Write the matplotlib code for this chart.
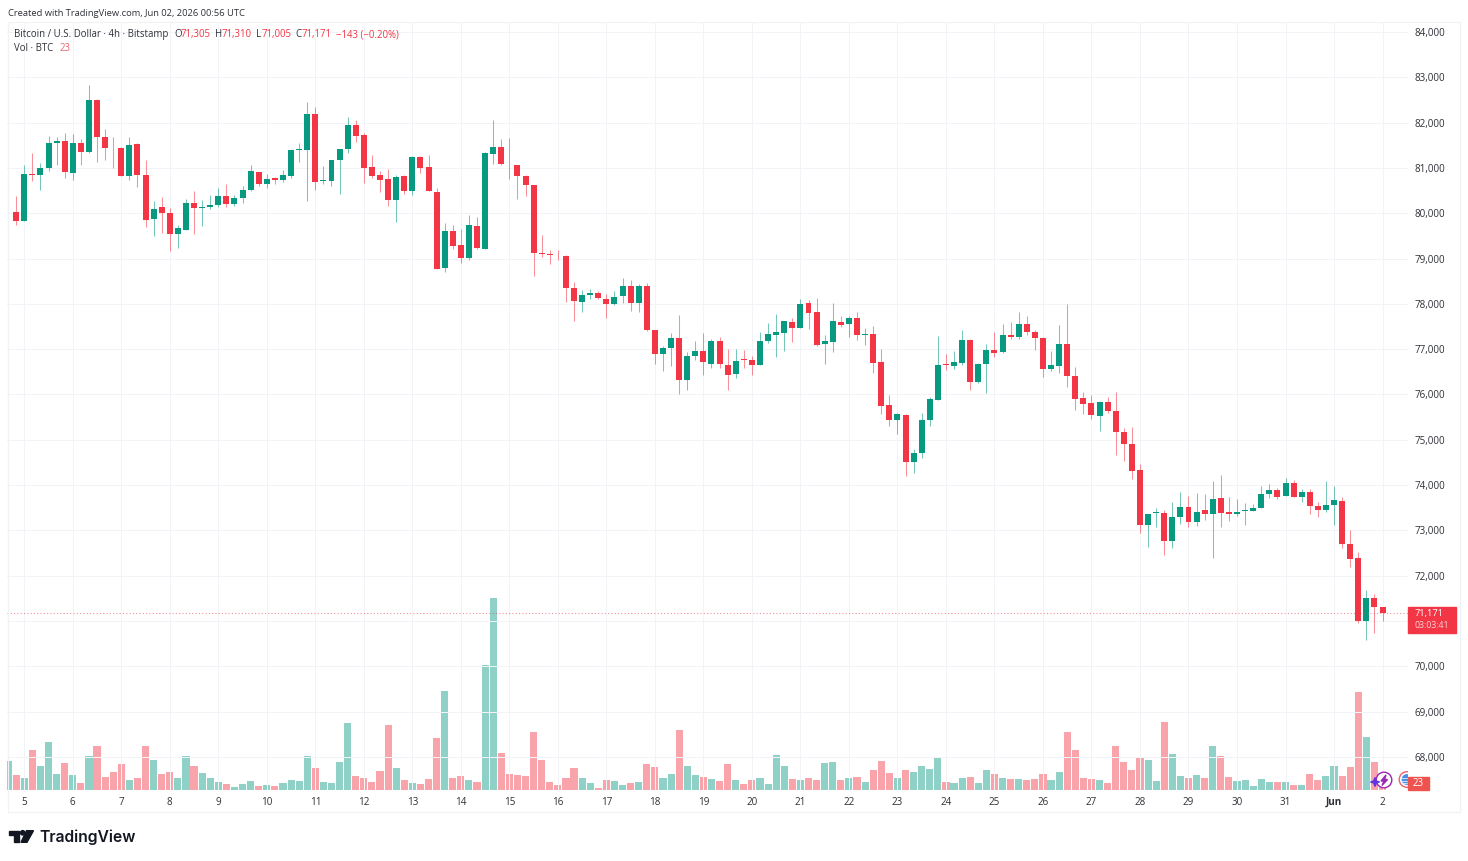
import matplotlib
matplotlib.use("Agg")
import matplotlib.pyplot as plt
from matplotlib.patches import Rectangle, Circle, Polygon
from matplotlib.ticker import FuncFormatter

# BTC/USD 4h candles, 4 May 16:00 to 2 Jun 00:00 UTC
opens = [
    80030, 80030, 79838, 80868, 80846, 81000, 81544, 81603, 80890, 81559,
    81346, 82500, 81691, 81449, 81434, 80831, 81529, 80838, 79875, 80147,
    80000, 79551, 79640, 80220, 80110, 80140, 80184, 80382, 80213, 80331,
    80508, 80912, 80654, 80772, 80728, 80816, 81397, 81404, 82191, 80713,
    80713, 81169, 81419, 81941, 81720, 81029, 80838, 80750, 80301, 80823,
    80492, 81249, 81014, 80470, 78785, 79616, 79292, 79005, 79719, 79211,
    81316, 81455, 81095, 81058, 80823, 80617, 79130, 79101, 79086, 79057,
    78350, 78049, 78196, 78233, 78115, 77990, 78167, 78395, 78020, 78395,
    77423, 76886, 77033, 77247, 76313, 76857, 76952, 76665, 77173, 76658,
    76460, 76776, 76765, 76647, 77191, 77309, 77368, 77610, 77470, 78022,
    77816, 77118, 77162, 77610, 77559, 77699, 77309, 77346, 76713, 75772,
    75441, 75552, 74515, 74706, 75426, 75882, 76662, 76632, 76691, 77213,
    76265, 76662, 76985, 76941, 77316, 77279, 77551, 77382, 77257, 76573,
    76618, 77110, 76419, 75912, 75809, 75522, 75838, 75632, 75176, 74912,
    74324, 73125, 73375, 73382, 72772, 73301, 73515, 73184, 73456, 73360,
    73706, 73404, 73368, 73419, 73434, 73493, 73801, 73897, 73757, 74044,
    73743, 73838, 73544, 73449, 73552, 73647, 72706, 72397, 70993, 71500,
    71305,
]
highs = [
    80772, 80382, 81059, 81324, 81103, 81706, 81676, 81779, 81750, 81632,
    82824, 82530, 81868, 81691, 81463, 81691, 81540, 81176, 80265, 80368,
    80110, 79750, 80324, 80485, 80294, 80397, 80551, 80647, 80412, 80603,
    81066, 80920, 80868, 80809, 80956, 81426, 81559, 82449, 82353, 81037,
    81176, 81412, 82118, 82059, 81765, 81279, 80926, 80971, 80838, 80853,
    81260, 81260, 81294, 80558, 79778, 79734, 79660, 79955, 79910, 81352,
    82059, 81647, 81662, 81073, 80840, 80631, 79528, 79189, 79189, 79071,
    78490, 78306, 78335, 78292, 78218, 78292, 78571, 78527, 78432, 78454,
    77430, 77070, 77364, 77762, 76938, 77173, 77364, 77232, 77262, 76997,
    76997, 76982, 76846, 77390, 77581, 77787, 77632, 77699, 78118, 78096,
    78132, 77316, 78022, 77743, 77743, 77824, 77463, 77507, 77007, 75993,
    75581, 75559, 74787, 75596, 75934, 77301, 76904, 76963, 77426, 77220,
    76699, 77125, 77390, 77551, 77610, 77831, 77743, 77426, 77265, 76963,
    77537, 78007, 76610, 76051, 75985, 75846, 75941, 76051, 75250, 75279,
    74456, 73368, 73493, 73441, 73632, 73846, 73765, 73831, 73794, 74088,
    74228, 73735, 73691, 73603, 73574, 73985, 74015, 73926, 74162, 74103,
    73912, 73912, 73632, 74088, 73985, 73735, 73000, 72515, 71691, 71603,
    71310,
]
lows = [
    79610, 79735, 79825, 80720, 80515, 80926, 81059, 80787, 80728, 81066,
    81340, 81125, 81184, 80993, 80825, 80728, 80581, 79698, 79493, 79566,
    79169, 79243, 79630, 79537, 79728, 80096, 80140, 80140, 80169, 80228,
    80500, 80610, 80566, 80654, 80700, 80787, 81140, 80272, 80507, 80640,
    80610, 80434, 81331, 81581, 80669, 80787, 80478, 80154, 79816, 80419,
    80403, 80889, 80485, 78762, 78711, 79211, 78902, 78976, 79211, 79205,
    81095, 81066, 80756, 80315, 80374, 78623, 79035, 78887, 78961, 78049,
    77622, 77813, 78108, 78108, 77696, 77985, 78020, 77843, 77828, 77410,
    76665, 76518, 76636, 76018, 76091, 76754, 76430, 76592, 76577, 76106,
    76356, 76592, 76441, 76640, 77132, 76824, 76956, 77162, 77465, 77456,
    77074, 76662, 76941, 77485, 77279, 77206, 77103, 76485, 75559, 75294,
    75132, 74206, 74265, 74588, 75294, 75880, 76544, 76559, 76647, 76103,
    76260, 76029, 76838, 76926, 77221, 77221, 77309, 76971, 76397, 76515,
    76485, 76176, 75654, 75566, 75463, 75184, 75596, 74654, 74537, 74125,
    72949, 72625, 73081, 72463, 72610, 73140, 73081, 73096, 73228, 72390,
    73081, 73213, 73316, 73125, 73418, 73488, 73713, 73684, 73752, 73728,
    73625, 73360, 73287, 73404, 73125, 72610, 72199, 70949, 70588, 70743,
    71005,
]
closes = [
    80030, 79838, 80868, 80846, 81000, 81544, 81588, 80904, 81559, 81346,
    82500, 81684, 81449, 81434, 80831, 81515, 80846, 79860, 80088, 80007,
    79551, 79676, 80235, 80110, 80147, 80191, 80382, 80213, 80338, 80515,
    80926, 80654, 80765, 80728, 80838, 81397, 81412, 82191, 80699, 80728,
    81176, 81412, 81941, 81713, 81007, 80831, 80743, 80301, 80809, 80492,
    81249, 81007, 80492, 78777, 79616, 79285, 79005, 79734, 79226, 81323,
    81455, 81080, 81080, 80815, 80624, 79123, 79101, 79071, 79071, 78358,
    78064, 78203, 78233, 78122, 77990, 78159, 78395, 78020, 78395, 77416,
    76886, 77026, 77247, 76327, 76850, 76952, 76710, 77173, 76665, 76426,
    76746, 76754, 76647, 77184, 77331, 77382, 77618, 77470, 78007, 77809,
    77103, 77184, 77625, 77544, 77699, 77309, 77346, 76706, 75750, 75441,
    75559, 74515, 74713, 75434, 75890, 76654, 76640, 76713, 77213, 76279,
    76669, 76978, 76926, 77316, 77272, 77551, 77382, 77250, 76559, 76640,
    77110, 76412, 75904, 75801, 75537, 75838, 75625, 75169, 74904, 74316,
    73110, 73353, 73397, 72772, 73294, 73515, 73184, 73412, 73360, 73691,
    73390, 73368, 73412, 73448, 73500, 73794, 73897, 73728, 74044, 73743,
    73838, 73537, 73449, 73559, 73662, 72699, 72375, 70993, 71500, 71314,
    71171,
]
volumes = [
    174, 90, 74, 242, 142, 286, 94, 162, 90, 42,
    206, 262, 78, 106, 158, 58, 70, 266, 182, 98,
    110, 70, 202, 142, 102, 70, 50, 34, 18, 38,
    54, 22, 30, 26, 42, 62, 54, 202, 130, 50,
    42, 166, 402, 86, 74, 50, 114, 390, 130, 58,
    42, 34, 66, 310, 594, 74, 86, 62, 46, 750,
    1152, 222, 98, 90, 82, 346, 182, 50, 30, 74,
    134, 74, 42, 14, 58, 54, 30, 42, 46, 158,
    138, 74, 94, 362, 144, 90, 78, 66, 54, 154,
    58, 38, 62, 70, 38, 210, 142, 66, 62, 70,
    62, 162, 170, 62, 70, 78, 46, 118, 174, 102,
    74, 122, 110, 146, 126, 198, 46, 42, 74, 78,
    42, 122, 94, 74, 66, 66, 58, 66, 94, 58,
    106, 346, 238, 70, 66, 58, 42, 262, 170, 118,
    190, 178, 54, 406, 218, 86, 74, 90, 70, 262,
    206, 78, 54, 62, 22, 66, 46, 50, 50, 30,
    30, 94, 62, 86, 146, 86, 138, 590, 318, 166,
    23,
]
price_ticks = list(range(68000, 84001, 1000))
day_labels = [str(d) for d in range(5, 32)] + ["Jun", "2"]
day_ticks = [2 + 6 * k for k in range(len(day_labels))]

UP = "#089981"
DOWN = "#F23645"
GRID = "#F2F3F6"
INK = "#2E3138"
FONT = "Open Sans"
W, H = 1468, 861
PX = 0.72  # one pixel in points at 100 dpi

plt.rcParams["font.family"] = FONT


def pane_rect(left, top, right, bottom):
    return [left / W, 1 - bottom / H, (right - left) / W, (bottom - top) / H]


def price_label(value, _):
    # The 71,000 tick would sit under the last price badge
    return "" if int(value) == 71000 else f"{int(value):,}"


fig = plt.figure(figsize=(W / 100, H / 100), dpi=100, facecolor="white")

# Volume sits behind the candles and shares their time scale
rect = pane_rect(7, 22, 1408, 790)
ax_vol = fig.add_axes(rect, zorder=1)
ax = fig.add_axes(rect, zorder=2, facecolor="none")
x_range = (-0.136, 173.15)

n = len(closes)
idx = list(range(n))
is_up = [c >= o for o, c in zip(opens, closes)]
colours = [UP if u else DOWN for u in is_up]

ax_vol.bar(idx, volumes, width=0.88, color=colours, alpha=0.45, linewidth=0)
ax_vol.set_ylim(0, 4608)
ax_vol.set_xlim(*x_range)
ax_vol.axis("off")

ax.set_xlim(*x_range)
ax.set_ylim(67271, 84221)
ax.vlines(idx, lows, highs, colors=colours, linewidth=1.05 * PX, alpha=0.55, zorder=3)
ax.bar(idx, [abs(c - o) for o, c in zip(opens, closes)],
       bottom=[min(o, c) for o, c in zip(opens, closes)],
       width=0.74, color=colours, linewidth=0, zorder=4)
ax.axhline(closes[-1], color=DOWN, linewidth=1.1 * PX, linestyle=(0, (1, 2)), alpha=0.55, zorder=5)

ax.set_yticks(price_ticks)
ax.yaxis.tick_right()
ax.yaxis.set_major_formatter(FuncFormatter(price_label))
ax.set_xticks(day_ticks)
ax.set_xticklabels(day_labels)
ax.tick_params(axis="both", length=0, labelsize=7.1, labelcolor=INK)
ax.tick_params(axis="y", pad=5.0)
ax.tick_params(axis="x", pad=5.0)
ax.get_xticklabels()[day_labels.index("Jun")].set_fontweight("bold")
ax.grid(True, color=GRID, linewidth=1.0 * PX, zorder=0)
ax.set_axisbelow(True)
for s in ax.spines.values():
    s.set_visible(False)

# Pixel-addressed layer for header, legend, badges and logo
ov = fig.add_axes([0, 0, 1, 1], zorder=3, facecolor="none")
ov.set_xlim(0, W)
ov.set_ylim(H, 0)
ov.axis("off")

ov.add_patch(Rectangle((8, 22), 1452, 790, fill=False, edgecolor="#F1F2F5", linewidth=1.2 * PX, zorder=0))


def label(x, y, s, color=INK, size=7.0, **kw):
    return ov.text(x, y, s, color=color, fontsize=size, va="center", ha=kw.pop("ha", "left"), **kw)


label(8, 13, "Created with TradingView.com, Jun 02, 2026 00:56 UTC", size=6.75)

label(14.5, 34.7, "Bitcoin / U.S. Dollar · 4h · Bitstamp", size=6.9)
for x, s in [(174.5, "O"), (215.5, "H"), (256, "L"), (295.5, "C")]:
    label(x, 34.7, s, size=6.9)
for x, s in [(181, "71,305"), (222, "71,310"), (261.5, "71,005"), (301.5, "71,171"),
             (336, "−143 (−0.20%)")]:
    label(x, 34.7, s, color=DOWN, size=6.9)
label(14.5, 48.7, "Vol · BTC", size=6.9)
label(60, 48.7, "23", color="#F0656F", size=6.9)

# Last price badge with the bar countdown
ov.add_patch(Rectangle((1408, 607), 48, 25.5, color=DOWN, zorder=2))
label(1414.5, 613.8, "71,171", color="white", size=6.7, zorder=3)
label(1414.5, 625.8, "03:03:41", color="#FBD3D7", size=6.3, zorder=3)

# Volume badge
ov.add_patch(Rectangle((1408, 777), 20.5, 13, color="#EF5350", zorder=4))
label(1418.2, 783.8, "23", color="white", size=7.0, ha="center", zorder=5)

# Event markers at the right edge of the time axis
ov.add_patch(Circle((1384, 780), 7.8, facecolor="white", edgecolor="#9C27B0", linewidth=1.4 * PX, zorder=3))
ov.add_patch(Polygon([(1386, 775), (1381, 781), (1384, 781), (1382, 785.5), (1387.5, 779.5),
                      (1384.5, 779.5)], color="#9C27B0", zorder=4))
ov.add_patch(Polygon([(1375, 777.5), (1376.3, 781), (1379.5, 782), (1376.3, 783), (1375, 786.5),
                      (1373.7, 783), (1370.5, 782), (1373.7, 781)], color="#5E35E0", zorder=4))

# The second marker is cut off where the price scale begins
clip = Rectangle((1390, 760), 18, 40, transform=ov.transData)
flag_ring = Circle((1407, 779.5), 7.8, facecolor="white", edgecolor="#F0616D", linewidth=1.4 * PX, zorder=3)
flag_disc = Circle((1407, 779.5), 5.4, facecolor="#4A90E2", edgecolor="none", zorder=3)
for p in (flag_ring, flag_disc):
    ov.add_patch(p)
    p.set_clip_path(clip)
for y in (778, 780.5, 783):
    ov.plot([1401, 1408], [y, y], color="white", linewidth=0.7 * PX, zorder=3)

# TradingView wordmark
ov.add_patch(Polygon([(9.3, 830.7), (19.3, 830.7), (19.3, 842.3), (14.3, 842.3), (14.3, 835), (9.3, 835)],
                     color="#131722"))
ov.add_patch(Circle((22.7, 832.8), 2.2, color="#131722"))
ov.add_patch(Polygon([(26.5, 830.7), (33.5, 830.7), (27, 842.3), (21, 842.3)], color="#131722"))
ov.text(39.5, 837, "TradingView", color="#131722", fontsize=11.3, family="Inter", fontweight="semibold",
        va="center", ha="left")

fig.savefig("out.png", dpi=100, facecolor="white")
